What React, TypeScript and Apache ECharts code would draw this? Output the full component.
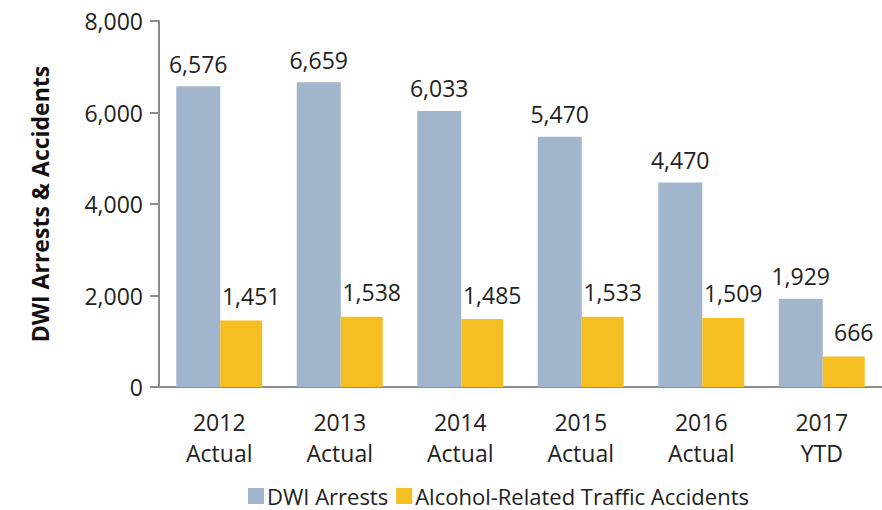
import React, { useEffect, useRef } from "react";
import * as echarts from "echarts";

const categories = ["2012\nActual", "2013\nActual", "2014\nActual", "2015\nActual", "2016\nActual", "2017\nYTD"];
const dwiArrests = [6576, 6659, 6033, 5470, 4470, 1929];
const alcoholAccidents = [1451, 1538, 1485, 1533, 1509, 666];
const yTicks = { min: 0, max: 8000, interval: 2000 };

const FONT = "'Open Sans', 'Liberation Sans', sans-serif";
const fmt = (v: number) => v.toLocaleString("en-US");

export default function App() {
  const ref = useRef<HTMLDivElement>(null);
  useEffect(() => {
    if (!ref.current) return;
    const chart = echarts.init(ref.current, undefined, { renderer: "svg" });
    chart.setOption({
      animation: false,
      textStyle: { fontFamily: FONT },
      grid: { left: 159, top: 21, width: 727, bottom: 123, containLabel: false },
      legend: {
        left: 248,
        top: 485,
        padding: 0,
        itemWidth: 16,
        itemHeight: 16,
        itemGap: 8,
        icon: "rect",
        textStyle: { fontFamily: FONT, fontSize: 22, lineHeight: 22, color: "#222", padding: [0, 0, 0, -2] },
        data: ["DWI Arrests", "Alcohol-Related Traffic Accidents"],
      },
      xAxis: {
        type: "category",
        data: categories,
        axisLine: { lineStyle: { color: "#8c8c8c", width: 2 } },
        axisTick: { show: false },
        axisLabel: { color: "#222", fontSize: 23, lineHeight: 31, margin: 19, fontFamily: FONT },
      },
      yAxis: {
        type: "value",
        min: yTicks.min,
        max: yTicks.max,
        interval: yTicks.interval,
        name: "DWI Arrests & Accidents",
        nameLocation: "middle",
        nameGap: 108,
        nameTextStyle: { fontWeight: "bold", fontSize: 23, color: "#111", fontFamily: FONT },
        axisLine: { show: true, lineStyle: { color: "#8c8c8c", width: 2 } },
        axisTick: { show: true, length: 9, lineStyle: { color: "#8c8c8c", width: 2 } },
        splitLine: { show: false },
        axisLabel: { color: "#222", fontSize: 23, margin: 16, formatter: (v: number) => fmt(v), fontFamily: FONT },
      },
      series: [
        {
          name: "DWI Arrests",
          type: "bar",
          data: dwiArrests,
          barWidth: 44,
          barGap: "0%",
          itemStyle: { color: "#a1b6cd" },
          label: {
            show: true,
            position: "top",
            distance: 11,
            color: "#222",
            fontSize: 23,
            fontFamily: FONT,
            formatter: (p: any) => fmt(p.value),
          },
        },
        {
          name: "Alcohol-Related Traffic Accidents",
          type: "bar",
          data: alcoholAccidents,
          barWidth: 42,
          barGap: "0%",
          itemStyle: { color: "#f5bf23" },
          label: {
            show: true,
            position: "top",
            distance: 13,
            offset: [10, 0],
            color: "#222",
            fontSize: 23,
            fontFamily: FONT,
            formatter: (p: any) => fmt(p.value),
          },
        },
      ],
    });
    return () => chart.dispose();
  }, []);
  return (
    <div
      ref={ref}
      style={{ position: "fixed", left: 0, top: 0, width: 882, height: 510, background: "#fff" }}
    />
  );
}
